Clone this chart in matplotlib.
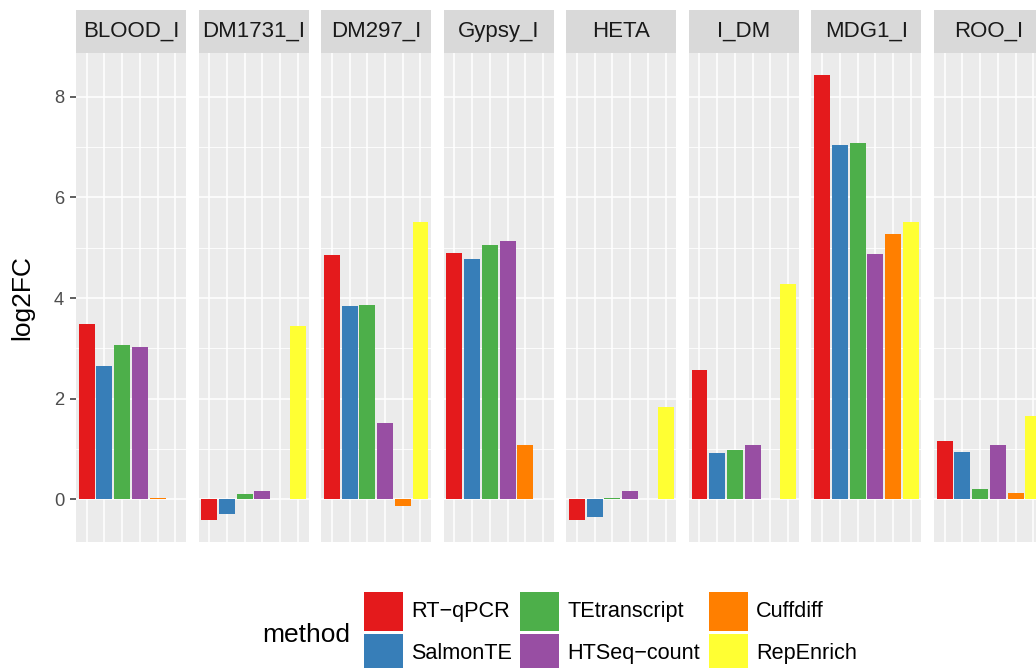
import numpy as np
import matplotlib
matplotlib.use('Agg')
import matplotlib.pyplot as plt
from matplotlib.patches import Rectangle

plt.rcParams['font.family'] = ['Liberation Sans', 'DejaVu Sans']

# data
elements = ['BLOOD_I', 'DM1731_I', 'DM297_I', 'Gypsy_I', 'HETA', 'I_DM', 'MDG1_I', 'ROO_I']
methods = ['RT\u2212qPCR', 'SalmonTE', 'TEtranscript', 'HTSeq\u2212count', 'Cuffdiff', 'RepEnrich']
colors = ['#E41A1C', '#377EB8', '#4DAF4A', '#984EA3', '#FF7F00', '#FFFF33']

nan = np.nan
rt_qpcr = [3.49, -0.41, 4.86, 4.90, -0.41, 2.57, 8.43, 1.16]
salmonte = [2.65, -0.29, 3.85, 4.78, -0.35, 0.92, 7.05, 0.94]
tetranscript = [3.07, 0.11, 3.87, 5.06, 0.02, 0.98, 7.09, 0.21]
htseq = [3.03, 0.16, 1.52, 5.14, 0.16, 1.08, 4.88, 1.08]
cuffdiff = [0.03, nan, -0.13, 1.08, nan, nan, 5.28, 0.13]
repenrich = [nan, 3.45, 5.52, nan, 1.84, 4.28, 5.52, 1.66]

values = np.array([rt_qpcr, salmonte, tetranscript, htseq, cuffdiff, repenrich])

W, H = 1036, 668
fig = plt.figure(figsize=(W / 100, H / 100), dpi=100)

# overlay in pixel coordinates for the y label and legend
ov = fig.add_axes([0, 0, 1, 1])
ov.set_xlim(0, W)
ov.set_ylim(H, 0)
ov.axis('off')

lo = np.nanmin(values)
hi = np.nanmax(values)
pad = (hi - lo) * 0.05
ylim = (lo - pad, hi + pad)

x = np.arange(1, len(methods) + 1)
panel_top, panel_bot = 53, 542
strip_top = 10
step = 122.57
pw = 110

for i, el in enumerate(elements):
    left = 76 + step * i
    ax = fig.add_axes([left / W, 1 - panel_bot / H, pw / W, (panel_bot - panel_top) / H])
    ax.set_facecolor('#EBEBEB')
    for j in range(len(methods)):
        v = values[j, i]
        if np.isnan(v):
            continue
        ax.bar(x[j], v, width=0.9, color=colors[j], zorder=3)
    ax.set_xlim(0.4, 6.6)
    ax.set_ylim(*ylim)
    ax.set_xticks(x)
    ax.set_yticks([0, 2, 4, 6, 8])
    ax.set_yticks([1, 3, 5, 7], minor=True)
    ax.grid(which='major', color='white', linewidth=1.15, zorder=1)
    ax.grid(which='minor', axis='y', color='white', linewidth=0.6, zorder=1)
    ax.set_axisbelow(True)
    for s in ax.spines.values():
        s.set_visible(False)
    ax.tick_params(axis='x', which='both', length=0, labelbottom=False)
    ax.tick_params(axis='y', which='minor', length=0)
    if i == 0:
        ax.tick_params(axis='y', which='major', length=4.3, width=1.1, color='#333333',
                       labelsize=13.2, labelcolor='#4D4D4D', pad=4.3)
    else:
        ax.tick_params(axis='y', which='major', length=0, labelleft=False)

    sa = fig.add_axes([left / W, 1 - panel_top / H, pw / W, (panel_top - strip_top) / H])
    sa.set_facecolor('#D9D9D9')
    sa.set_xticks([])
    sa.set_yticks([])
    for s in sa.spines.values():
        s.set_visible(False)
    sa.text(0.5, 0.5, el, ha='center', va='center', fontsize=16, color='#1A1A1A',
            transform=sa.transAxes)

ov.text(22, 298, 'log2FC', rotation=90, ha='center', va='center', fontsize=19, color='black')

# legend
ov.text(262, 635, 'method', ha='left', va='center', fontsize=19, color='black')
key_x = [364, 520, 709]
key_y = [592, 634]
for k, m in enumerate(methods):
    col = k // 2
    row = k % 2
    ov.add_patch(Rectangle((key_x[col], key_y[row]), 39, 39, facecolor=colors[k], edgecolor='none'))
    ov.text(key_x[col] + 47, key_y[row] + 19.5, m, ha='left', va='center', fontsize=15.6, color='black')

fig.savefig('out.png', dpi=100)
